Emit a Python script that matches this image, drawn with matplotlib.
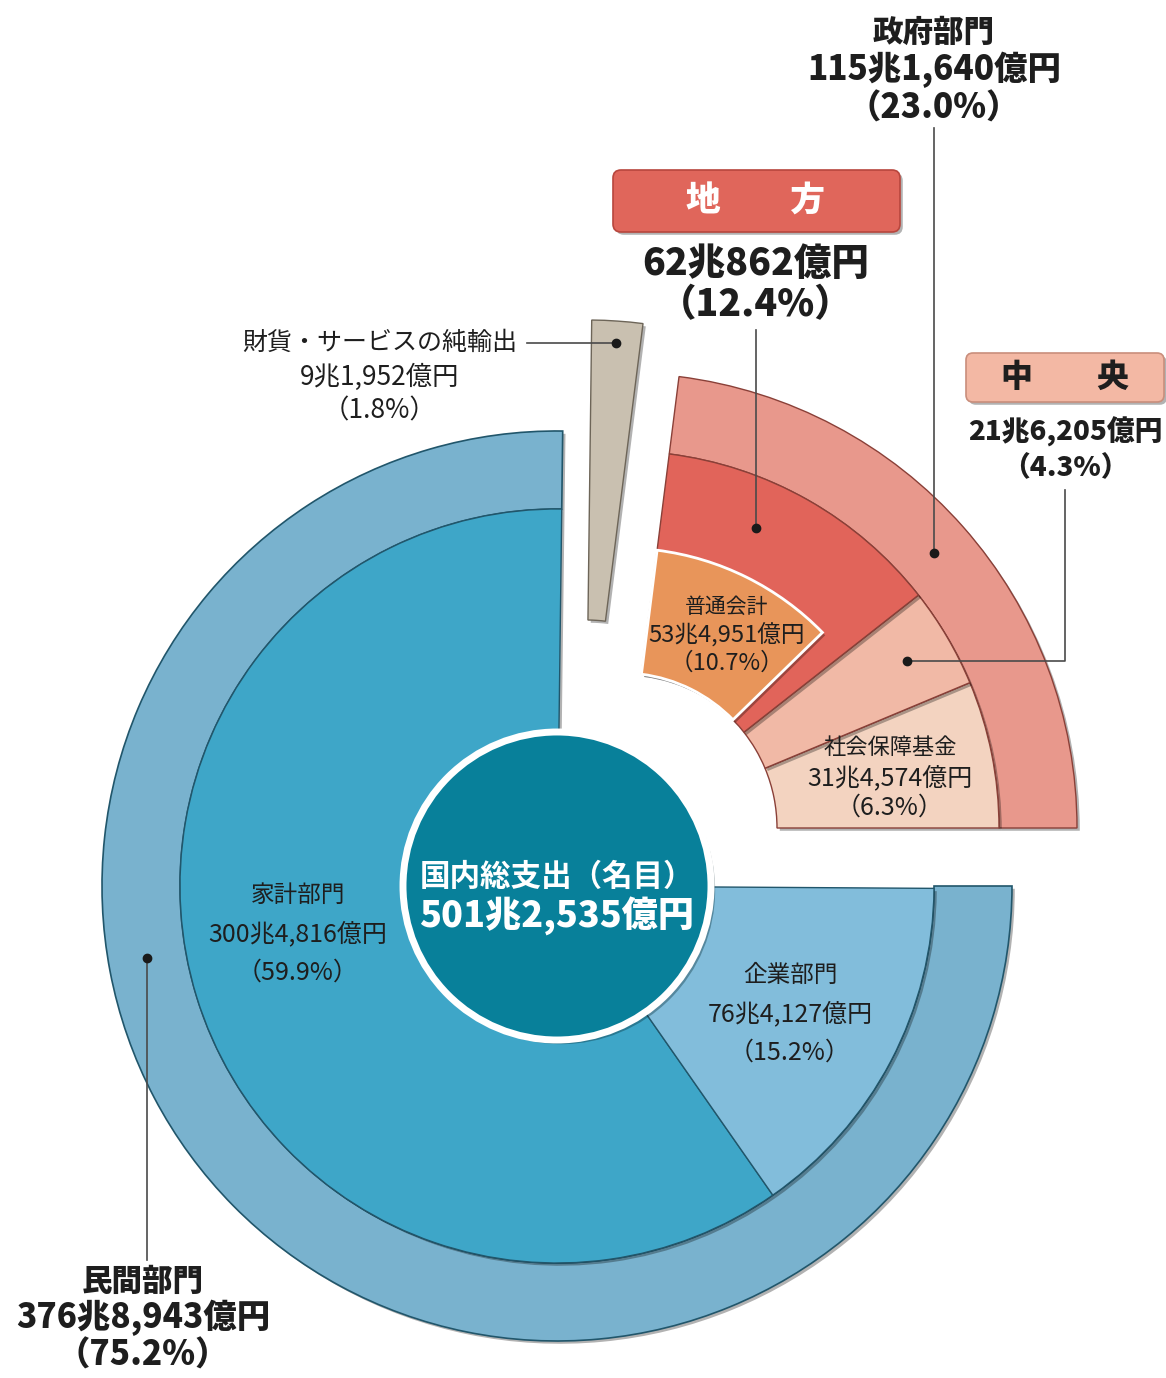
import matplotlib
matplotlib.use("Agg")
import numpy as np
import matplotlib.pyplot as plt
from matplotlib.patches import Wedge, Circle, FancyBboxPatch
import matplotlib.patheffects as pe

plt.rcParams['font.family'] = ['Noto Sans CJK JP', 'DejaVu Sans']

# --- data ---
total_name = "国内総支出（名目）"
total_value = "501兆2,535億円"

# counter-clockwise from 3 o'clock
sector_names = ["政府部門", "財貨・サービスの純輸出", "民間部門"]
sector_values = ["115兆1,640億円", "9兆1,952億円", "376兆8,943億円"]
sector_shares = [23.0, 1.8, 75.2]

gov_names = ["社会保障基金", "中央", "地方"]
gov_values = ["31兆4,574億円", "21兆6,205億円", "62兆862億円"]
gov_shares = [6.3, 4.3, 12.4]

local_sub_name = "普通会計"
local_sub_value = "53兆4,951億円"
local_sub_share = 10.7

private_names = ["家計部門", "企業部門"]
private_values = ["300兆4,816億円", "76兆4,127億円"]
private_shares = [59.9, 15.2]

# --- layout (pixel space, y down) ---
W, H = 1166, 1378
main_c = (557, 886)
gov_c = (622, 828)
nx_c = (586, 775)
R_CORE, R_IN, R_SUB, R_MID, R_OUT = 154, 155, 280, 377, 455

fig = plt.figure(figsize=(W / 100, H / 100), dpi=100)
ax = fig.add_axes([0, 0, 1, 1])
ax.set_xlim(0, W)
ax.set_ylim(H, 0)
ax.axis('off')

shadow = [pe.SimplePatchShadow(offset=(2, -2), shadow_rgbFace='k', alpha=0.3), pe.Normal()]


def wedge(c, r, a1, a2, width=None, **kw):
    # y axis is inverted, so visual ccw angle a -> data angle -a
    p = Wedge(c, r, -a2, -a1, width=width, path_effects=shadow, **kw)
    ax.add_patch(p)
    return p


def polar(c, r, a):
    t = np.deg2rad(a)
    return c[0] + r * np.cos(t), c[1] - r * np.sin(t)


def pct(s):
    return f"（{s}%）"


deg = lambda s: s * 3.6
sec_edges = np.concatenate([[0], np.cumsum([deg(s) for s in sector_shares])])

# private sector
blue_edge = '#21566b'
p1, p2 = sec_edges[2], sec_edges[3]
wedge(main_c, R_OUT, p1, p2, width=R_OUT - R_MID, fc='#79b2ce', ec=blue_edge, lw=1.2)
priv_cols = ['#3ea6c8', '#82bddb']
a = p1
for s, col in zip(private_shares, priv_cols):
    wedge(main_c, R_MID, a, a + deg(s), fc=col, ec=blue_edge, lw=1.0)
    a += deg(s)

# net exports
wedge(nx_c, R_OUT, sec_edges[1], sec_edges[2], width=R_OUT - R_IN, fc='#c9c0b0', ec='#6d6558', lw=1.0)

# government sector
red_edge = '#8a4038'
wedge(gov_c, R_OUT, sec_edges[0], sec_edges[1], width=R_OUT - R_MID, fc='#e8988c', ec=red_edge, lw=1.0)
gov_cols = ['#f3d3c0', '#f1b9a6', '#e1645a']
g_edges = np.concatenate([[0], np.cumsum([deg(s) for s in gov_shares])])
for i, col in enumerate(gov_cols):
    wedge(gov_c, R_MID, g_edges[i], g_edges[i + 1], width=R_MID - R_IN, fc=col, ec=red_edge, lw=1.0)
sub_a2 = g_edges[3]
sub_a1 = sub_a2 - deg(local_sub_share)
wedge(gov_c, R_SUB, sub_a1, sub_a2, width=R_SUB - R_IN, fc='#e8955a', ec='white', lw=2)

# centre circle
core = Circle(main_c, R_CORE, fc='#08809a', ec='white', lw=5,
              path_effects=[pe.SimplePatchShadow(offset=(3, -3), alpha=0.35), pe.Normal()])
ax.add_patch(core)
ax.text(main_c[0], main_c[1] - 9, total_name, ha='center', va='center', color='white',
        fontsize=22, fontweight='bold')
ax.text(main_c[0], main_c[1] + 30, total_value, ha='center', va='center', color='white',
        fontsize=26, fontweight='black')

# --- labels ---
ink = '#1e1e1e'
line_c = '#4a4a4a'


def block(x, y, lines, sizes, weight='normal', gap=38):
    for k, (t, sz) in enumerate(zip(lines, sizes)):
        ax.text(x, y + k * gap, t, ha='center', va='center', color=ink,
                fontsize=sz, fontweight=weight)


def dot(x, y):
    ax.plot(x, y, 'o', ms=6, color='#1a1a1a', zorder=6)


# 政府部門
gx, gy = polar(gov_c, (R_MID + R_OUT) / 2, (sec_edges[0] + sec_edges[1]) / 2)
block(gx, 32, [sector_names[0], sector_values[0], pct(sector_shares[0])], [22, 24, 24], 'black', 38)
ax.plot([gx, gx], [128, gy], color=line_c, lw=1.2, zorder=5)
dot(gx, gy)

# 地方
lx, ly = polar(gov_c, (R_SUB + R_MID) / 2, 66)
ax.add_patch(FancyBboxPatch((613, 170), 287, 62, boxstyle='round,pad=0,rounding_size=8',
                            fc='#e0665b', ec='#b8463d', lw=1.2, path_effects=shadow))
ax.text(756, 201, gov_names[2][0] + '\u3000\u3000' + gov_names[2][1], ha='center', va='center',
        color='white', fontsize=25, fontweight='black')
block(756, 264, [gov_values[2], pct(gov_shares[2])], [27, 27], 'black', 41)
ax.plot([lx, lx], [330, ly], color=line_c, lw=1.2, zorder=5)
dot(lx, ly)

# 中央
cx_, cy_ = polar(gov_c, 330, (g_edges[1] + g_edges[2]) / 2)
ax.add_patch(FancyBboxPatch((966, 353), 198, 49, boxstyle='round,pad=0,rounding_size=7',
                            fc='#f3b8a4', ec='#c98e7c', lw=1.2, path_effects=shadow))
ax.text(1065, 377, gov_names[1][0] + '\u3000\u3000' + gov_names[1][1], ha='center', va='center',
        color=ink, fontsize=23, fontweight='black')
block(1065, 432, [gov_values[1], pct(gov_shares[1])], [20, 20], 'black', 36)
ax.plot([1065, 1065, cx_], [490, cy_, cy_], color=line_c, lw=1.2, zorder=5)
dot(cx_, cy_)

# 財貨・サービスの純輸出
ex, ey = polar(nx_c, 433, (sec_edges[1] + sec_edges[2]) / 2)
block(380, 343, [sector_names[1], sector_values[1], pct(sector_shares[1])], [18, 19, 19], 'normal', 34)
ax.plot([527, ex], [ey, ey], color=line_c, lw=1.2, zorder=5)
dot(ex, ey)

# 普通会計 / 社会保障基金
block(727, 607, [local_sub_name, local_sub_value, pct(local_sub_share)], [15, 17, 17], 'normal', 28)
block(890, 748, [gov_names[0], gov_values[0], pct(gov_shares[0])], [16, 18, 18], 'normal', 30)

# private parts
block(298, 895, [private_names[0], private_values[0], pct(private_shares[0])], [17, 18, 18], 'normal', 39)
block(790, 975, [private_names[1], private_values[1], pct(private_shares[1])], [17, 18, 18], 'normal', 39)

# 民間部門
mx, my = polar(main_c, (R_MID + R_OUT) / 2, 190)
block(143, 1281, [sector_names[2], sector_values[2], pct(sector_shares[2])], [22, 24, 24], 'black', 37)
ax.plot([mx, mx], [my, 1260], color=line_c, lw=1.2, zorder=5)
dot(mx, my)

fig.savefig('out.png', dpi=100)
